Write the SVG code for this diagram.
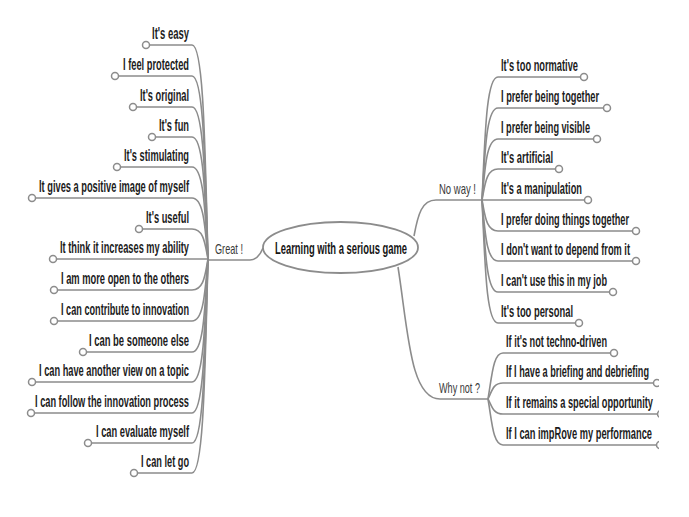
<svg xmlns="http://www.w3.org/2000/svg" width="689" height="517" viewBox="0 0 689 517">
<style>
.t{font-family:"Liberation Sans",Arial,sans-serif;font-size:16px;font-weight:bold;fill:#1c1c1c}
.b{font-family:"Liberation Sans",Arial,sans-serif;font-size:15px;fill:#3a3a3a}
.c{font-family:"Liberation Sans",Arial,sans-serif;font-size:16px;font-weight:bold;fill:#151515}
.l{fill:none;stroke:#8c8c8c;stroke-width:1.6}
.d{fill:#fff;stroke:#8c8c8c;stroke-width:1.5}
</style>
<defs>
<clipPath id="cut"><rect x="0" y="0" width="659" height="517"/></clipPath>
</defs>
<rect width="689" height="517" fill="#fff"/>
<g id="connectors">
<path class="l" d="M208,260 L250,260 Q258,260 263,248"/>
<path class="l" d="M414,236 C418,214 422,200 436,200 L482,200"/>
<path class="l" d="M398,267 C408,330 410,399 440,399 L488,399"/>
<path class="l" d="M208,259 C205,152 204,45 192,45 L149.5,45"/>
<path class="l" d="M208,259 C205,167 204,76 192,76 L118.5,76"/>
<path class="l" d="M208,259 C205,183 204,107 192,107 L136.5,107"/>
<path class="l" d="M208,259 C205,198 204,137 192,137 L155.5,137"/>
<path class="l" d="M208,259 C205,213 204,167 192,167 L120.5,167"/>
<path class="l" d="M208,259 C205,228 204,198 192,198 L35.5,198"/>
<path class="l" d="M208,259 C205,244 204,229 192,229 L142.5,229"/>
<path class="l" d="M208,259 L56.5,259"/>
<path class="l" d="M208,259 C205,275 204,290 192,290 L57.5,290"/>
<path class="l" d="M208,259 C205,290 204,321 192,321 L57.5,321"/>
<path class="l" d="M208,259 C205,305 204,352 192,352 L86.5,352"/>
<path class="l" d="M208,259 C205,320 204,382 192,382 L35.5,382"/>
<path class="l" d="M208,259 C205,336 204,413 192,413 L34.5,413"/>
<path class="l" d="M208,259 C205,351 204,443 192,443 L91.5,443"/>
<path class="l" d="M208,259 C205,366 204,473 192,473 L137.5,473"/>
<path class="l" d="M482,200 C485,138 486,77 498,77 L580.5,77"/>
<path class="l" d="M482,200 C485,154 486,108 498,108 L603.5,108"/>
<path class="l" d="M482,200 C485,170 486,139 498,139 L593.5,139"/>
<path class="l" d="M482,200 C485,185 486,169 498,169 L555.5,169"/>
<path class="l" d="M482,200 L584.5,200"/>
<path class="l" d="M482,200 C485,215 486,231 498,231 L632.5,231"/>
<path class="l" d="M482,200 C485,230 486,261 498,261 L632.5,261"/>
<path class="l" d="M482,200 C485,246 486,292 498,292 L609.5,292"/>
<path class="l" d="M482,200 C485,262 486,323 498,323 L575.5,323"/>
<g clip-path="url(#cut)">
<path class="l" d="M488,399 C492,376 493,353 503,353 L610.5,353"/>
<path class="l" d="M488,399 C492,391 493,383 503,383 L653.5,383"/>
<path class="l" d="M488,399 C492,406 493,414 503,414 L657.5,414"/>
<path class="l" d="M488,399 C492,422 493,445 503,445 L656.5,445"/>
</g>
</g>
<g id="center">
<ellipse cx="340.5" cy="247.5" rx="77.5" ry="25.5" fill="#fff" stroke="#8c8c8c" stroke-width="1.8"/>
<text class="c" x="275" y="253.5" textLength="132" lengthAdjust="spacingAndGlyphs">Learning with a serious game</text>
</g>
<g id="great">
<text class="b" x="215" y="254" textLength="28" lengthAdjust="spacingAndGlyphs">Great !</text>
</g>
<g id="noway">
<text class="b" x="439" y="194" textLength="37" lengthAdjust="spacingAndGlyphs">No way !</text>
</g>
<g id="whynot">
<text class="b" x="439" y="393" textLength="41" lengthAdjust="spacingAndGlyphs">Why not ?</text>
</g>
<g id="g1"><circle class="d" cx="146" cy="45" r="3.5"/><text class="t" x="152" y="39" textLength="37" lengthAdjust="spacingAndGlyphs">It's easy</text></g>
<g id="g2"><circle class="d" cx="115" cy="76" r="3.5"/><text class="t" x="123" y="70" textLength="66" lengthAdjust="spacingAndGlyphs">I feel protected</text></g>
<g id="g3"><circle class="d" cx="133" cy="107" r="3.5"/><text class="t" x="140" y="101" textLength="49" lengthAdjust="spacingAndGlyphs">It's original</text></g>
<g id="g4"><circle class="d" cx="152" cy="137" r="3.5"/><text class="t" x="159" y="131" textLength="30" lengthAdjust="spacingAndGlyphs">It's fun</text></g>
<g id="g5"><circle class="d" cx="117" cy="167" r="3.5"/><text class="t" x="124" y="161" textLength="65" lengthAdjust="spacingAndGlyphs">It's stimulating</text></g>
<g id="g6"><circle class="d" cx="32" cy="198" r="3.5"/><text class="t" x="39" y="192" textLength="150" lengthAdjust="spacingAndGlyphs">It gives a positive image of myself</text></g>
<g id="g7"><circle class="d" cx="139" cy="229" r="3.5"/><text class="t" x="146" y="223" textLength="43" lengthAdjust="spacingAndGlyphs">It's useful</text></g>
<g id="g8"><circle class="d" cx="53" cy="259" r="3.5"/><text class="t" x="60" y="253" textLength="129" lengthAdjust="spacingAndGlyphs">It think it increases my ability</text></g>
<g id="g9"><circle class="d" cx="54" cy="290" r="3.5"/><text class="t" x="61" y="284" textLength="128" lengthAdjust="spacingAndGlyphs">I am more open to the others</text></g>
<g id="g10"><circle class="d" cx="54" cy="321" r="3.5"/><text class="t" x="61" y="315" textLength="128" lengthAdjust="spacingAndGlyphs">I can contribute to innovation</text></g>
<g id="g11"><circle class="d" cx="83" cy="352" r="3.5"/><text class="t" x="89" y="346" textLength="100" lengthAdjust="spacingAndGlyphs">I can be someone else</text></g>
<g id="g12"><circle class="d" cx="32" cy="382" r="3.5"/><text class="t" x="39" y="376" textLength="150" lengthAdjust="spacingAndGlyphs">I can have another view on a topic</text></g>
<g id="g13"><circle class="d" cx="31" cy="413" r="3.5"/><text class="t" x="35" y="407" textLength="154" lengthAdjust="spacingAndGlyphs">I can follow the innovation process</text></g>
<g id="g14"><circle class="d" cx="88" cy="443" r="3.5"/><text class="t" x="96" y="437" textLength="93" lengthAdjust="spacingAndGlyphs">I can evaluate myself</text></g>
<g id="g15"><circle class="d" cx="134" cy="473" r="3.5"/><text class="t" x="141" y="467" textLength="48" lengthAdjust="spacingAndGlyphs">I can let go</text></g>
<g id="n1"><circle class="d" cx="584" cy="77" r="3.5"/><text class="t" x="501" y="71" textLength="77" lengthAdjust="spacingAndGlyphs">It's too normative</text></g>
<g id="n2"><circle class="d" cx="607" cy="108" r="3.5"/><text class="t" x="501" y="102" textLength="98" lengthAdjust="spacingAndGlyphs">I prefer being together</text></g>
<g id="n3"><circle class="d" cx="597" cy="139" r="3.5"/><text class="t" x="501" y="133" textLength="89" lengthAdjust="spacingAndGlyphs">I prefer being visible</text></g>
<g id="n4"><circle class="d" cx="559" cy="169" r="3.5"/><text class="t" x="501" y="163" textLength="52" lengthAdjust="spacingAndGlyphs">It's artificial</text></g>
<g id="n5"><circle class="d" cx="588" cy="200" r="3.5"/><text class="t" x="501" y="194" textLength="81" lengthAdjust="spacingAndGlyphs">It's a manipulation</text></g>
<g id="n6"><circle class="d" cx="636" cy="231" r="3.5"/><text class="t" x="501" y="225" textLength="128" lengthAdjust="spacingAndGlyphs">I prefer doing things together</text></g>
<g id="n7"><circle class="d" cx="636" cy="261" r="3.5"/><text class="t" x="501" y="255" textLength="129" lengthAdjust="spacingAndGlyphs">I don't want to depend from it</text></g>
<g id="n8"><circle class="d" cx="613" cy="292" r="3.5"/><text class="t" x="501" y="286" textLength="106" lengthAdjust="spacingAndGlyphs">I can't use this in my job</text></g>
<g id="n9"><circle class="d" cx="579" cy="323" r="3.5"/><text class="t" x="501" y="317" textLength="72" lengthAdjust="spacingAndGlyphs">It's too personal</text></g>
<g id="w1"><circle class="d" cx="614" cy="353" r="3.5"/><text class="t" x="506" y="347" textLength="101" lengthAdjust="spacingAndGlyphs">If it's not techno-driven</text></g>
<g id="w2" clip-path="url(#cut)"><circle class="d" cx="657" cy="383" r="3.5"/><text class="t" x="506" y="377" textLength="143" lengthAdjust="spacingAndGlyphs">If I have a briefing and debriefing</text></g>
<g id="w3" clip-path="url(#cut)"><circle class="d" cx="661" cy="414" r="3.5"/><text class="t" x="506" y="408" textLength="147" lengthAdjust="spacingAndGlyphs">If it remains a special opportunity</text></g>
<g id="w4" clip-path="url(#cut)"><circle class="d" cx="660" cy="445" r="3.5"/><text class="t" x="506" y="439" textLength="146" lengthAdjust="spacingAndGlyphs">If I can impRove my performance</text></g>
</svg>
